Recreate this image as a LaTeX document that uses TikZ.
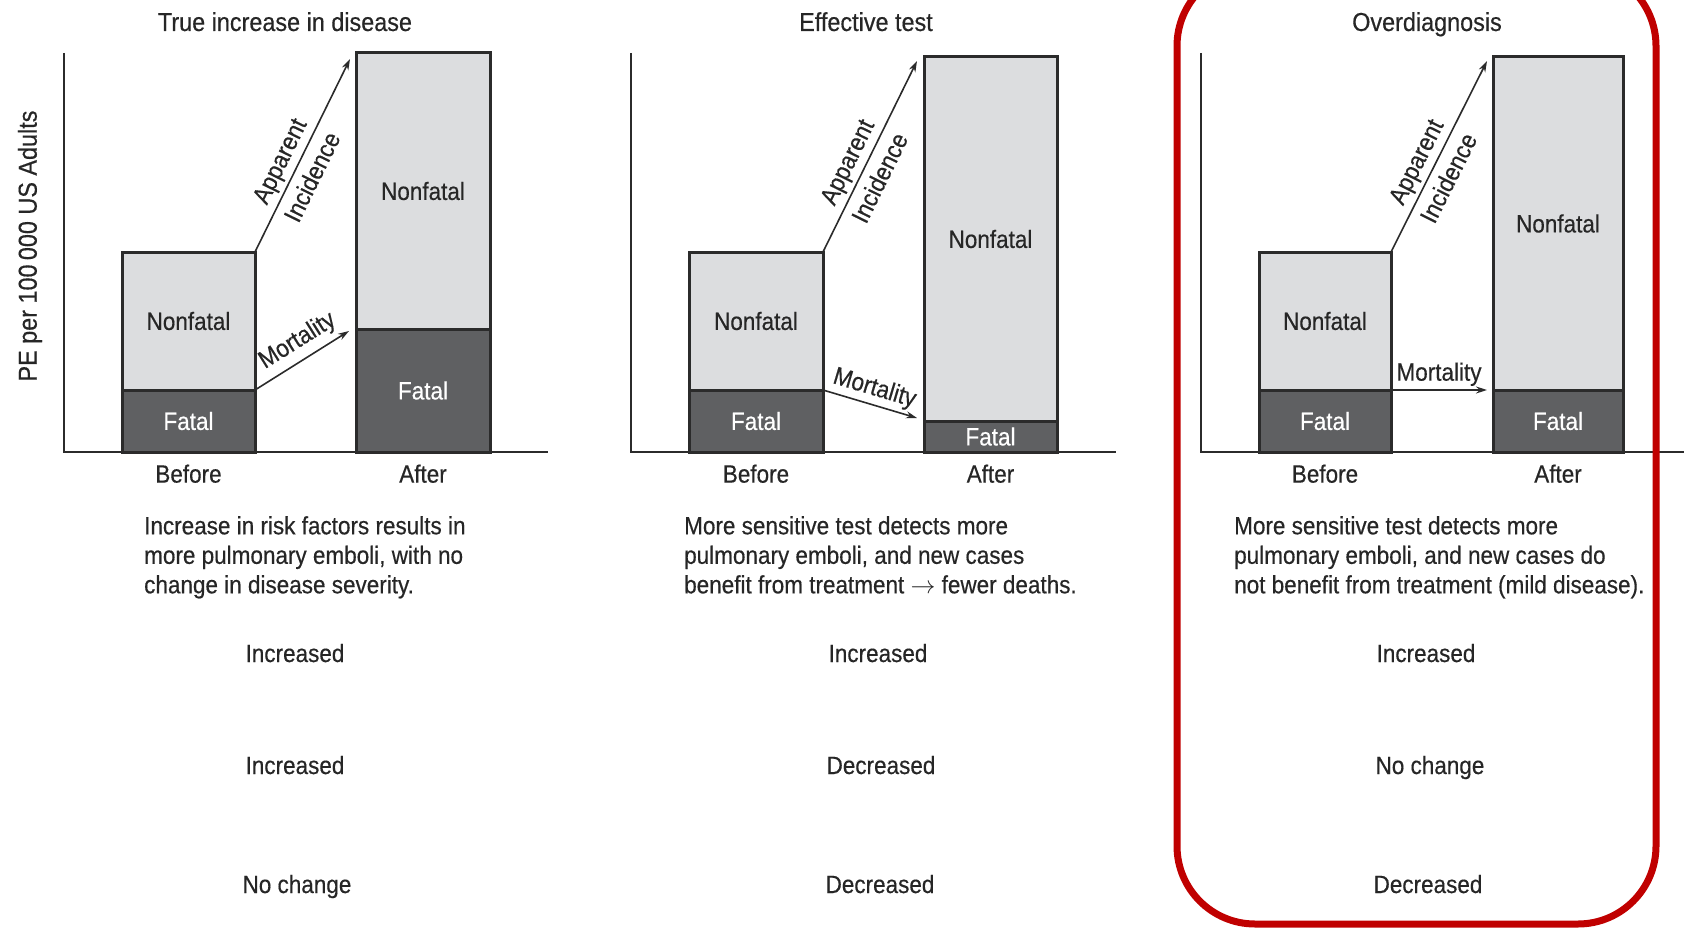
\documentclass[tikz,border=0pt]{standalone}
\usepackage{fontspec}
\setmainfont{Liberation Sans}[FakeStretch=0.9,FakeBold=0.4]
\usepackage{tikz}
\usetikzlibrary{arrows.meta,positioning}
\definecolor{nonfatalgray}{RGB}{220,221,223}
\definecolor{fatalgray}{RGB}{95,96,98}
\definecolor{edgegray}{RGB}{43,43,43}
\definecolor{boxred}{RGB}{192,0,0}

\begin{document}
\begin{tikzpicture}[x=1pt,y=-1pt,node distance=9pt,
		font=\fontsize{25}{29.5}\selectfont,text=black!85,
		title/.style={font=\fontsize{26}{30}\selectfont,anchor=base},
		outcome/.style={anchor=base},
		nonfatal/.style={draw=edgegray,line width=3pt,fill=nonfatalgray,inner sep=2pt,outer sep=0pt,anchor=north west},
		fatal/.style={draw=edgegray,line width=3pt,fill=fatalgray,text=white,inner sep=2pt,outer sep=0pt},
		axis/.style={draw=edgegray,line width=2.5pt},
		trend/.style={-{Stealth[length=11pt,width=7pt]},draw=edgegray,line width=1.6pt},
		note/.style={align=left,anchor=north west,inner sep=0pt}]
	\useasboundingbox (0,0) rectangle (1684,934);
	\clip (0,0) rectangle (1684,934);

	% axes
	\draw[axis] (64,53) -- (64,452) -- (548,452);
	\draw[axis] (631,53) -- (631,452) -- (1116,452);
	\draw[axis] (1201,53) -- (1201,452) -- (1686,452);
	\node[rotate=90,font=\fontsize{26}{30}\selectfont] (ylab) at (30,246) {PE per 100\,000 US Adults};

	% true increase in disease
	\node[title] (t1) at (285,31) {True increase in disease};
	\node[nonfatal,minimum width=133,minimum height=138] (b1) at (122,252) {Nonfatal};
	\node[fatal,minimum width=133,minimum height=62,below=0pt of b1] (b1f) {Fatal};
	\node[nonfatal,minimum width=134,minimum height=276] (a1) at (356,53) {Nonfatal};
	\node[fatal,minimum width=134,minimum height=123,below=0pt of a1] (a1f) {Fatal};
	\node[below=of b1f] (l1b) {Before};
	\node[below=of a1f] (l1a) {After};
	\coordinate (i1) at (350,59);
	\coordinate (m1) at (349,331);
	\draw[trend] (b1.north east) -- node[sloped,pos=.43,align=center] {Apparent\\[7pt]Incidence} (i1);
	\draw[trend] (b1f.north east) -- node[sloped,pos=.56,above=3pt] {Mortality} (m1);

	% effective test
	\node[title] (t2) at (866,31) {Effective test};
	\node[nonfatal,minimum width=134,minimum height=138] (b2) at (689,252) {Nonfatal};
	\node[fatal,minimum width=134,minimum height=62,below=0pt of b2] (b2f) {Fatal};
	\node[nonfatal,minimum width=133,minimum height=364] (a2) at (924,57) {Nonfatal};
	\node[fatal,minimum width=133,minimum height=31,below=0pt of a2] (a2f) {Fatal};
	\node[below=of b2f] (l2b) {Before};
	\node[below=of a2f] (l2a) {After};
	\coordinate (i2) at (917,61);
	\coordinate (m2) at (917,418);
	\draw[trend] (b2.north east) -- node[sloped,pos=.43,align=center] {Apparent\\[7pt]Incidence} (i2);
	\draw[trend] (b2f.north east) -- node[sloped,above] {Mortality} (m2);

	% overdiagnosis
	\node[title] (t3) at (1427,31) {Overdiagnosis};
	\node[nonfatal,minimum width=132,minimum height=138] (b3) at (1259,252) {Nonfatal};
	\node[fatal,minimum width=132,minimum height=62,below=0pt of b3] (b3f) {Fatal};
	\node[nonfatal,minimum width=130,minimum height=333] (a3) at (1493,57) {Nonfatal};
	\node[fatal,minimum width=130,minimum height=62,below=0pt of a3] (a3f) {Fatal};
	\node[below=of b3f] (l3b) {Before};
	\node[below=of a3f] (l3a) {After};
	\coordinate (i3) at (1487,61);
	\coordinate (m3) at (1487,390);
	\draw[trend] (b3.north east) -- node[sloped,pos=.43,align=center] {Apparent\\[7pt]Incidence} (i3);
	\draw[trend] (b3f.north east) -- node[sloped,above] {Mortality} (m3);

	% explanations
	\node[note] (d1) at (144,516) {Increase in risk factors results in\\more pulmonary emboli, with no\\change in disease severity.};
	\node[note] (d2) at (684,516) {More sensitive test detects more\\pulmonary emboli, and new cases\\benefit from treatment $\rightarrow$ fewer deaths.};
	\node[note] (d3) at (1234,516) {More sensitive test detects more\\pulmonary emboli, and new cases do\\not benefit from treatment (mild disease).};

	% outcomes
	\node[outcome] (r1a) at (295,662) {Increased};
	\node[outcome] (r1b) at (295,774) {Increased};
	\node[outcome] (r1c) at (297,893) {No change};
	\node[outcome] (r2a) at (878,662) {Increased};
	\node[outcome] (r2b) at (881,774) {Decreased};
	\node[outcome] (r2c) at (880,893) {Decreased};
	\node[outcome] (r3a) at (1426,662) {Increased};
	\node[outcome] (r3b) at (1430,774) {No change};
	\node[outcome] (r3c) at (1428,893) {Decreased};

	\draw[boxred,line width=7pt,rounded corners=78pt] (1177,-32) rectangle (1656,924);
\end{tikzpicture}
\end{document}
